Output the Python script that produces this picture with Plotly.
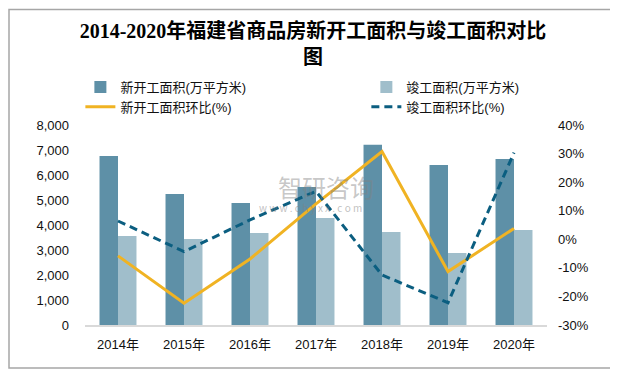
import plotly.graph_objects as go

years = ["2014年", "2015年", "2016年", "2017年", "2018年", "2019年", "2020年"]
new_start_area = [6760, 5240, 4880, 5520, 7210, 6400, 6640]
completed_area = [3560, 3440, 3680, 4280, 3720, 2880, 3800]
new_start_growth = [-5.8, -22.4, -6.9, 12.4, 30.7, -11.3, 3.8]
completed_growth = [6.4, -4.3, 6.8, 16.8, -12.5, -22.2, 30.3]

left_ticks = list(range(0, 8001, 1000))
right_ticks = list(range(-30, 41, 10))
right_tick_text = [f"{v}%" for v in right_ticks]

CJK = "Liberation Sans, Noto Sans CJK SC, sans-serif"
WM = "Noto Sans CJK SC, sans-serif"

fig = go.Figure()
fig.add_trace(go.Bar(
    x=years, y=new_start_area, name="新开工面积(万平方米)",
    marker=dict(color="#5E90A7", line=dict(width=0)), legend="legend",
))
fig.add_trace(go.Bar(
    x=years, y=completed_area, name="竣工面积(万平方米)",
    marker=dict(color="#A0BECB", line=dict(width=0)), legend="legend2",
))
fig.add_trace(go.Scatter(
    x=years, y=new_start_growth, name="新开工面积环比(%)", yaxis="y2",
    mode="lines", line=dict(color="#F0B323", width=3), legend="legend",
))
fig.add_trace(go.Scatter(
    x=years, y=completed_growth, name="竣工面积环比(%)", yaxis="y2",
    mode="lines", line=dict(color="#0B5E80", width=3, dash="8px,5px"), legend="legend2",
))

# outer border
fig.add_shape(type="rect", xref="paper", yref="paper",
              x0=-0.1645, x1=1.1429, y0=-0.215, y1=1.578,
              line=dict(color="#A6A6A6", width=1.5), fillcolor="rgba(0,0,0,0)", layer="below")

# watermark
fig.add_annotation(text="智研咨询", xref="paper", yref="paper", x=0.522, y=0.79,
                   showarrow=False, font=dict(size=24, color="rgba(130,130,130,0.45)", family=WM))
fig.add_annotation(text="w w w . c h y x x . c o m", xref="paper", yref="paper", x=0.488, y=0.59,
                   showarrow=False, font=dict(size=10, color="rgba(130,130,130,0.5)", family=WM))

fig.update_layout(
    width=610, height=363,
    margin=dict(l=77, r=71, t=117, b=46, autoexpand=False),
    paper_bgcolor="white", plot_bgcolor="white",
    title=dict(text="2014-2020年福建省商品房新开工面积与竣工面积对比<br>图",
               x=0.5, xanchor="center", y=0.918, yanchor="top",
               font=dict(size=20, color="black", family="Liberation Serif, Noto Sans CJK SC, serif", weight="bold")),
    barmode="group", bargap=0.44, bargroupgap=0,
    font=dict(family=CJK, size=13, color="#222"),
    xaxis=dict(showline=True, linecolor="#D9D9D9", linewidth=1.5, ticks="", automargin=False,
               ticklabelstandoff=7, tickfont=dict(size=13, color="#111")),
    yaxis=dict(range=[0, 8000], tickvals=left_ticks, tickformat=",", showgrid=False,
               zeroline=False, showline=False, ticks="", ticklabelstandoff=15, automargin=False,
               tickfont=dict(size=13, color="#111")),
    yaxis2=dict(range=[-30, 40], tickvals=right_ticks, ticktext=right_tick_text, overlaying="y",
                side="right", showgrid=False, zeroline=False, showline=False, ticks="",
                ticklabelstandoff=10, automargin=False, tickfont=dict(size=13, color="#111")),
    legend=dict(x=-0.01, y=1.265, xanchor="left", yanchor="top", orientation="v",
                bgcolor="rgba(0,0,0,0)", font=dict(size=13, color="#111"), itemwidth=30),
    legend2=dict(x=0.609, y=1.265, xanchor="left", yanchor="top", orientation="v",
                 bgcolor="rgba(0,0,0,0)", font=dict(size=13, color="#111"), itemwidth=30),
)

fig.write_html("out.html")
